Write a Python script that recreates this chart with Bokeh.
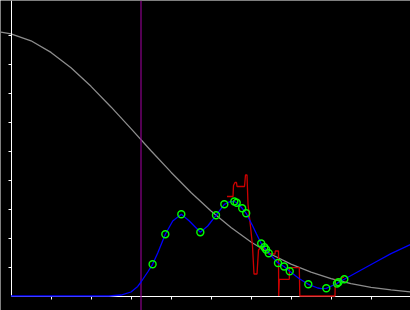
from bokeh.plotting import figure
from bokeh.models import Range1d, LinearAxis, FixedTicker, Span
from bokeh.embed import file_html
from bokeh.resources import INLINE

# Gray reference curve
gray_x = [-0.25, 0, 0.5, 1, 1.5, 2, 2.5, 3, 3.5, 4, 4.5, 5, 5.5, 6, 6.5, 7, 7.5, 8, 8.5, 9, 9.5, 10]
gray_y = [9.10, 9.04, 8.80, 8.40, 7.87, 7.23, 6.52, 5.77, 5.01, 4.27, 3.57, 2.93, 2.36, 1.86, 1.44,
          1.10, 0.82, 0.60, 0.43, 0.30, 0.21, 0.14]

# Blue smooth curve
blue_x = [0, 2.45, 2.75, 3.0, 3.168, 3.25, 3.418, 3.54, 3.668, 3.858, 4.043, 4.258, 4.458, 4.733,
          4.918, 5.125, 5.333, 5.45, 5.583, 5.643, 5.78, 5.88, 6.043, 6.138, 6.255, 6.333, 6.375,
          6.443, 6.675, 6.828, 6.968, 7.2, 7.433, 7.668, 7.75, 7.883, 8.15, 8.188, 8.333, 9.083,
          9.5, 10.0]
blue_y = [0, 0, 0.034, 0.138, 0.328, 0.483, 0.828, 1.093, 1.483, 2.128, 2.586, 2.817, 2.586, 2.197,
          2.414, 2.783, 3.162, 3.241, 3.259, 3.217, 3.024, 2.852, 2.414, 2.138, 1.810, 1.679, 1.603,
          1.476, 1.138, 1.017, 0.855, 0.603, 0.403, 0.276, 0.252, 0.266, 0.431, 0.472, 0.576, 1.148,
          1.459, 1.783]

# Green sample points
pts_x = [3.54, 3.858, 4.258, 4.733, 5.125, 5.333, 5.583, 5.643, 5.78, 5.88, 6.255, 6.333, 6.375,
         6.443, 6.675, 6.828, 6.968, 7.433, 7.883, 8.15, 8.188, 8.333]
pts_y = [1.093, 2.128, 2.817, 2.197, 2.783, 3.162, 3.259, 3.217, 3.024, 2.852, 1.810, 1.679, 1.603,
         1.476, 1.138, 1.017, 0.855, 0.403, 0.266, 0.431, 0.472, 0.576]

# Red step curve
red_x = [5.4, 5.55, 5.5625, 5.6, 5.6375, 5.65, 5.8375, 5.8625, 5.9, 5.925, 6.0, 6.0375, 6.075,
         6.15, 6.1875, 6.25, 6.35, 6.45, 6.6, 6.6075, 6.6875, 6.6925, 6.7075, 6.9575, 6.9625,
         7.2075, 7.22, 8.1, 8.1075, 8.2075, 8.325]
red_y = [3.431, 3.431, 3.810, 3.914, 3.914, 3.776, 3.776, 4.172, 4.172, 3.172, 2.241, 1.724, 0.759,
         0.759, 1.586, 1.690, 1.621, 1.448, 1.448, 1.552, 1.552, 0.0, 0.576, 0.576, 0.976,
         0.976, 0.0, 0.0, 0.576, 0.576, 0.655]

marker_x = 3.25
x_ticks = [1, 2, 3, 4, 5, 6, 7, 8, 9]
y_ticks = [1, 2, 3, 4, 5, 6, 7, 8, 9]

p = figure(width=410, height=310,
           x_range=Range1d(-0.2625, 9.9875), y_range=Range1d(-0.5, 10.19),
           output_backend="svg", toolbar_location=None,
           x_axis_type=None, y_axis_type=None, min_border=0,
           background_fill_color="black", border_fill_color="black",
           outline_line_color=None)

xaxis = LinearAxis(fixed_location=0, ticker=FixedTicker(ticks=x_ticks), bounds=(0, 10),
                   axis_line_color="white", axis_line_width=1,
                   major_tick_line_color="white", major_tick_out=3, major_tick_in=0,
                   minor_tick_line_color=None, major_label_text_color=None)
yaxis = LinearAxis(fixed_location=0, ticker=FixedTicker(ticks=y_ticks), bounds=(0, 10.19),
                   axis_line_color="white", axis_line_width=1,
                   major_tick_line_color="white", major_tick_out=3, major_tick_in=0,
                   minor_tick_line_color=None, major_label_text_color=None)
p.add_layout(xaxis, "below")
p.add_layout(yaxis, "left")

p.line(gray_x, gray_y, line_color="#8c8c8c", line_width=1.3)
p.add_layout(Span(location=marker_x, dimension="height", line_color="#8b008b", line_width=1.2))
p.line(red_x, red_y, line_color="#cc0000", line_width=1.3, level="overlay")
p.line(blue_x, blue_y, line_color="#0000ff", line_width=1.3, level="overlay")
p.scatter(pts_x, pts_y, marker="circle", size=7, fill_color=None,
          line_color="#00ff00", line_width=1.4, level="overlay")

open("out.html", "w").write(file_html(p, INLINE))
